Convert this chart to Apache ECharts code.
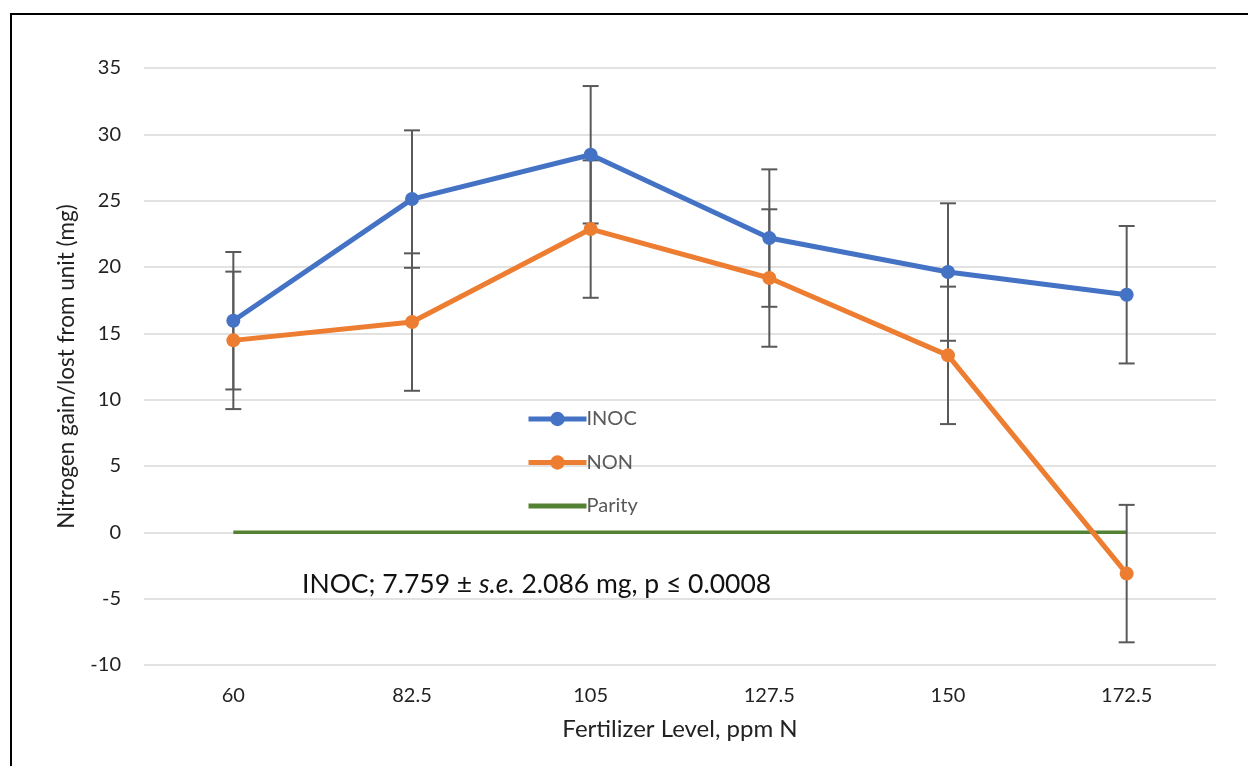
<!DOCTYPE html>
<html>
<head>
<meta charset="utf-8">
<script src="https://cdn.jsdelivr.net/npm/echarts@6/dist/echarts.min.js"></script>
<style>
html,body{margin:0;padding:0;background:#fff;}
#c{width:1248px;height:766px;}
</style>
</head>
<body>
<div id="c"></div>
<script>
const categories = ['60', '82.5', '105', '127.5', '150', '172.5'];
const inoc = [15.95, 25.12, 28.46, 22.18, 19.62, 17.91];
const non = [14.47, 15.85, 22.86, 19.17, 13.34, -3.11];
const parity = [0, 0, 0, 0, 0, 0];
const stdErr = 5.18;
const yTicks = { min: -10, max: 35, interval: 5 };

const chart = echarts.init(document.getElementById('c'));
const font = 'Lato, "Open Sans", sans-serif';

function errData(vals) {
  return vals.map((v, i) => [i, v - stdErr, v + stdErr]);
}
function errRender(params, api) {
  const x = api.value(0);
  const lo = api.coord([x, api.value(1)]);
  const hi = api.coord([x, api.value(2)]);
  const cw = 8;
  const st = { stroke: '#595959', lineWidth: 2 };
  return {
    type: 'group',
    children: [
      { type: 'line', shape: { x1: lo[0], y1: lo[1], x2: hi[0], y2: hi[1] }, style: st },
      { type: 'line', shape: { x1: lo[0] - cw, y1: lo[1], x2: lo[0] + cw, y2: lo[1] }, style: st },
      { type: 'line', shape: { x1: hi[0] - cw, y1: hi[1], x2: hi[0] + cw, y2: hi[1] }, style: st }
    ]
  };
}

chart.setOption({
  animation: false,
  backgroundColor: '#fff',
  textStyle: { fontFamily: font },
  grid: { left: 144, right: 32, top: 68, bottom: 101, containLabel: false },
  legend: {
    orient: 'vertical',
    left: 521, top: 404,
    itemGap: 23.5,
    itemWidth: 58, itemHeight: 18,
    lineStyle: { width: 5 },
    textStyle: { color: '#595959', fontSize: 20, fontFamily: font, padding: [0, 0, 0, -5] },
    data: [
      { name: 'INOC' },
      { name: 'NON' },
      { name: 'Parity', itemStyle: { color: 'transparent', borderWidth: 0 } }
    ]
  },
  xAxis: {
    type: 'category',
    data: categories,
    boundaryGap: true,
    name: 'Fertilizer Level, ppm N',
    nameLocation: 'middle',
    nameGap: 52,
    nameTextStyle: { color: '#222', fontSize: 24, fontFamily: font },
    axisLine: { show: false },
    axisTick: { show: false },
    axisLabel: { color: '#222', fontSize: 20, margin: 21, fontFamily: font },
    splitLine: { show: false }
  },
  yAxis: {
    type: 'value',
    min: yTicks.min, max: yTicks.max, interval: yTicks.interval,
    name: 'Nitrogen gain/lost from unit (mg)',
    nameLocation: 'middle',
    nameGap: 66,
    nameRotate: 90,
    nameTextStyle: { color: '#222', fontSize: 22.5, fontFamily: font },
    axisLine: { show: false },
    axisTick: { show: false },
    axisLabel: { color: '#222', fontSize: 20, margin: 23, fontFamily: font },
    splitLine: { lineStyle: { color: '#D9D9D9', width: 1.5 } }
  },
  graphic: [
    {
      type: 'rect', silent: true, z: 100,
      shape: { x: 11, y: 14, width: 1400, height: 900 },
      style: { fill: 'none', stroke: '#000', lineWidth: 2 }
    },
    {
      type: 'text', left: 302, top: 571, z: 50,
      style: {
        text: '{a|INOC; 7.759 ± }{i|s.e.}{a| 2.086 mg, p ≤ 0.0008}',
        rich: {
          a: { fontSize: 26.5, fontFamily: font, fill: '#111' },
          i: { fontSize: 26.5, fontFamily: font, fontStyle: 'italic', fill: '#111' }
        }
      }
    }
  ],
  series: [
    {
      name: 'Parity', type: 'line', data: parity,
      symbol: 'none', z: 2,
      lineStyle: { color: '#548235', width: 3.5 },
      itemStyle: { color: '#548235' }
    },
    {
      name: 'INOC err', type: 'custom', data: errData(inoc), renderItem: errRender, z: 3,
      encode: { x: 0, y: [1, 2] }
    },
    {
      name: 'NON err', type: 'custom', data: errData(non), renderItem: errRender, z: 3,
      encode: { x: 0, y: [1, 2] }
    },
    {
      name: 'INOC', type: 'line', data: inoc, z: 5,
      symbol: 'circle', symbolSize: 14,
      lineStyle: { color: '#4472C4', width: 5 },
      itemStyle: { color: '#4472C4' }
    },
    {
      name: 'NON', type: 'line', data: non, z: 4,
      symbol: 'circle', symbolSize: 14,
      lineStyle: { color: '#ED7D31', width: 5 },
      itemStyle: { color: '#ED7D31' }
    }
  ]
});
</script>
</body>
</html>
